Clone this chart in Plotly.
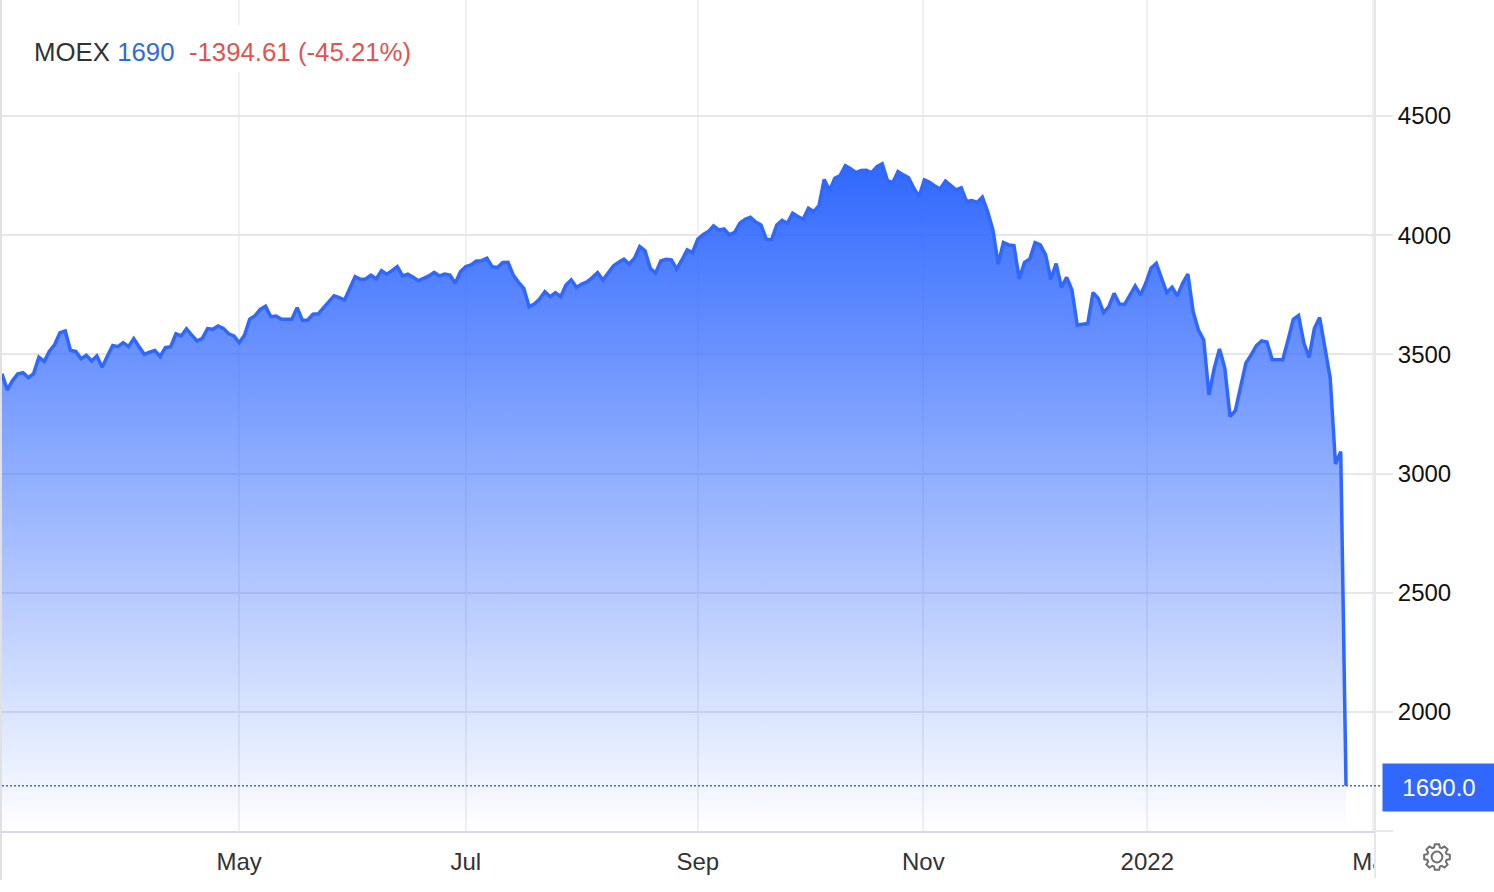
import math
import plotly.graph_objects as go

# Closing value per trading session
closes = [
3418,3351,3390,3418,3423,3402,3419,3488,3470,3513,3541,3591,3598,3516,3512,3481,3496,3472,3493,3446,
3493,3537,3532,3549,3532,3566,3532,3500,3509,3516,3491,3528,3532,3586,3577,3607,3581,3556,3567,3608,
3605,3619,3609,3586,3577,3549,3580,3648,3662,3689,3702,3658,3661,3647,3647,3647,3696,3642,3644,3668,
3670,3695,3721,3746,3738,3728,3777,3826,3815,3816,3832,3816,3851,3836,3851,3868,3829,3836,3823,3809,
3819,3829,3844,3829,3837,3833,3798,3847,3868,3875,3892,3893,3903,3868,3864,3885,3886,3833,3802,3777,
3700,3711,3732,3763,3742,3759,3742,3791,3812,3781,3795,3804,3822,3843,3812,3840,3871,3886,3899,3879,
3903,3952,3934,3861,3840,3892,3899,3896,3858,3896,3938,3927,3983,4002,4015,4039,4022,4026,4001,4012,
4050,4067,4075,4055,4043,3983,3980,4043,4062,4050,4092,4078,4067,4113,4099,4124,4234,4187,4239,4250,
4292,4279,4262,4271,4272,4262,4287,4299,4229,4220,4267,4253,4241,4197,4162,4232,4222,4206,4194,4227,
4206,4190,4199,4141,4145,4137,4159,4099,4022,3879,3969,3959,3956,3816,3886,3900,3969,3959,3917,3815,
3881,3781,3823,3770,3623,3626,3629,3759,3735,3675,3700,3756,3711,3710,3752,3787,3749,3798,3861,3882,
3819,3759,3781,3745,3798,3837,3679,3602,3560,3330,3442,3523,3442,3239,3264,3362,3463,3498,3537,3556,
3552,3477,3477,3477,3560,3647,3663,3547,3487,3609,3654,3526,3400,3040,3092,1690,
]
sessions = list(range(len(closes)))

x_tick_sessions = [45, 88, 132, 174.8, 217.3, 260.1]
x_tick_labels = ["May", "Jul", "Sep", "Nov", "2022", "Mar"]
y_tick_values = [1500, 2000, 2500, 3000, 3500, 4000, 4500]
y_tick_labels = ["", "2000", "2500", "3000", "3500", "4000", "4500"]

name = "MOEX"
last_text = "1690"
change_text = "-1394.61 (-45.21%)"
tag_value = 1690
tag_text = "1690.0"

W, H = 1494, 892
L, R, T, B = 2, 1375, 0, 831
BLUE = "#3068ff"
FONT = "Liberation Sans, Arial, sans-serif"


def px(x):
    return (x - L) / (R - L)


def py(y):
    return (B - y) / (B - T)


fig = go.Figure()
fig.add_trace(go.Scatter(
    x=sessions, y=closes, mode="lines",
    line=dict(color=BLUE, width=3.5, shape="linear"),
    fill="tozeroy",
    fillgradient=dict(
        type="vertical", start=1500, stop=4300,
        colorscale=[[0, "rgba(48,104,255,0.0)"], [1, "rgba(48,104,255,1)"]],
    ),
    hoverinfo="skip", showlegend=False,
))

# gear icon outline
cx, cy, ro, ri, hole = 1437, 857, 13.0, 10.0, 5.4
pts = []
teeth = 8
for k in range(teeth):
    a = 2 * math.pi * k / teeth
    step = 2 * math.pi / teeth
    for da, r in [(-0.30, ri), (-0.17, ro), (0.17, ro), (0.30, ri)]:
        t = a + da * step * 1.25
        pts.append((cx + r * math.cos(t), cy + r * math.sin(t)))
gear = "M " + " L ".join(f"{px(a):.5f},{py(b):.5f}" for a, b in pts) + " Z"

shapes = [
    # white box behind the header text
    dict(type="rect", xref="paper", yref="paper", x0=px(22), x1=px(422), y0=py(72), y1=py(25),
         fillcolor="white", line_width=0, layer="above"),
    # hides the end of the clipped last month label
    dict(type="rect", xref="paper", yref="paper", x0=px(1376), x1=px(1400), y0=py(885), y1=py(842),
         fillcolor="white", line_width=0, layer="above"),
    # right and left frame lines
    dict(type="line", xref="paper", yref="paper", x0=1, x1=1, y0=py(878), y1=1,
         line=dict(color="#e6e7ea", width=2), layer="above"),
    dict(type="line", xref="paper", yref="paper", x0=px(1), x1=px(1), y0=py(880), y1=1,
         line=dict(color="#dfe1e5", width=2), layer="above"),
    # last-value dotted line
    dict(type="line", xref="paper", yref="y", x0=0, x1=px(1382), y0=tag_value, y1=tag_value,
         line=dict(color=BLUE, width=1.5, dash="2px,2px"), layer="above"),
    dict(type="path", xref="paper", yref="paper", path=gear, line=dict(color="#707070", width=2),
         fillcolor="rgba(0,0,0,0)", layer="above"),
    dict(type="circle", xref="paper", yref="paper", x0=px(cx - hole), x1=px(cx + hole),
         y0=py(cy + hole), y1=py(cy - hole), line=dict(color="#707070", width=2), layer="above"),
]

annotations = [
    dict(xref="paper", yref="paper", x=px(33), y=py(52), xanchor="left", yanchor="middle",
         showarrow=False, align="left", borderpad=0,
         font=dict(family=FONT, size=25.8, color="#333333"),
         text=f"{name} <span style='color:#2f6be0'>{last_text}</span>"
              f"&nbsp;&nbsp;<span style='color:#e05353'>{change_text}</span>"),
    dict(xref="paper", yref="y", x=px(1382), y=tag_value, yshift=-1.5, xanchor="left", yanchor="middle",
         showarrow=False, width=112, height=47, bgcolor=BLUE, borderpad=0, align="center",
         font=dict(family=FONT, size=24, color="white"), text=tag_text),
]

fig.update_layout(
    width=W, height=H, autosize=False,
    margin=dict(l=L, r=W - R, t=T, b=H - B, pad=0),
    paper_bgcolor="white", plot_bgcolor="white",
    font=dict(family=FONT, size=24, color="#222222"),
    shapes=shapes, annotations=annotations,
    xaxis=dict(
        range=[0, 260.5], tickmode="array", tickvals=x_tick_sessions, ticktext=x_tick_labels,
        showgrid=True, gridcolor="#eef0f4", gridwidth=2, zeroline=False,
        showline=True, linecolor="#d5dbe8", linewidth=2, ticks="", ticklabelstandoff=8,
        tickfont=dict(family=FONT, size=24, color="#333333"),
    ),
    yaxis=dict(
        range=[1500, 4986.7], side="right", tickmode="array", tickvals=y_tick_values, ticktext=y_tick_labels,
        showgrid=True, gridcolor="#e6e7ea", gridwidth=2, zeroline=False, showline=False,
        ticks="outside", ticklen=17, tickwidth=2, tickcolor="#e6e7ea",
        tickfont=dict(family=FONT, size=24, color="#111111"),
    ),
)

fig.write_html("out.html", config=dict(displayModeBar=False),
               post_script="document.body.style.margin='0';document.documentElement.style.overflow='hidden';")
